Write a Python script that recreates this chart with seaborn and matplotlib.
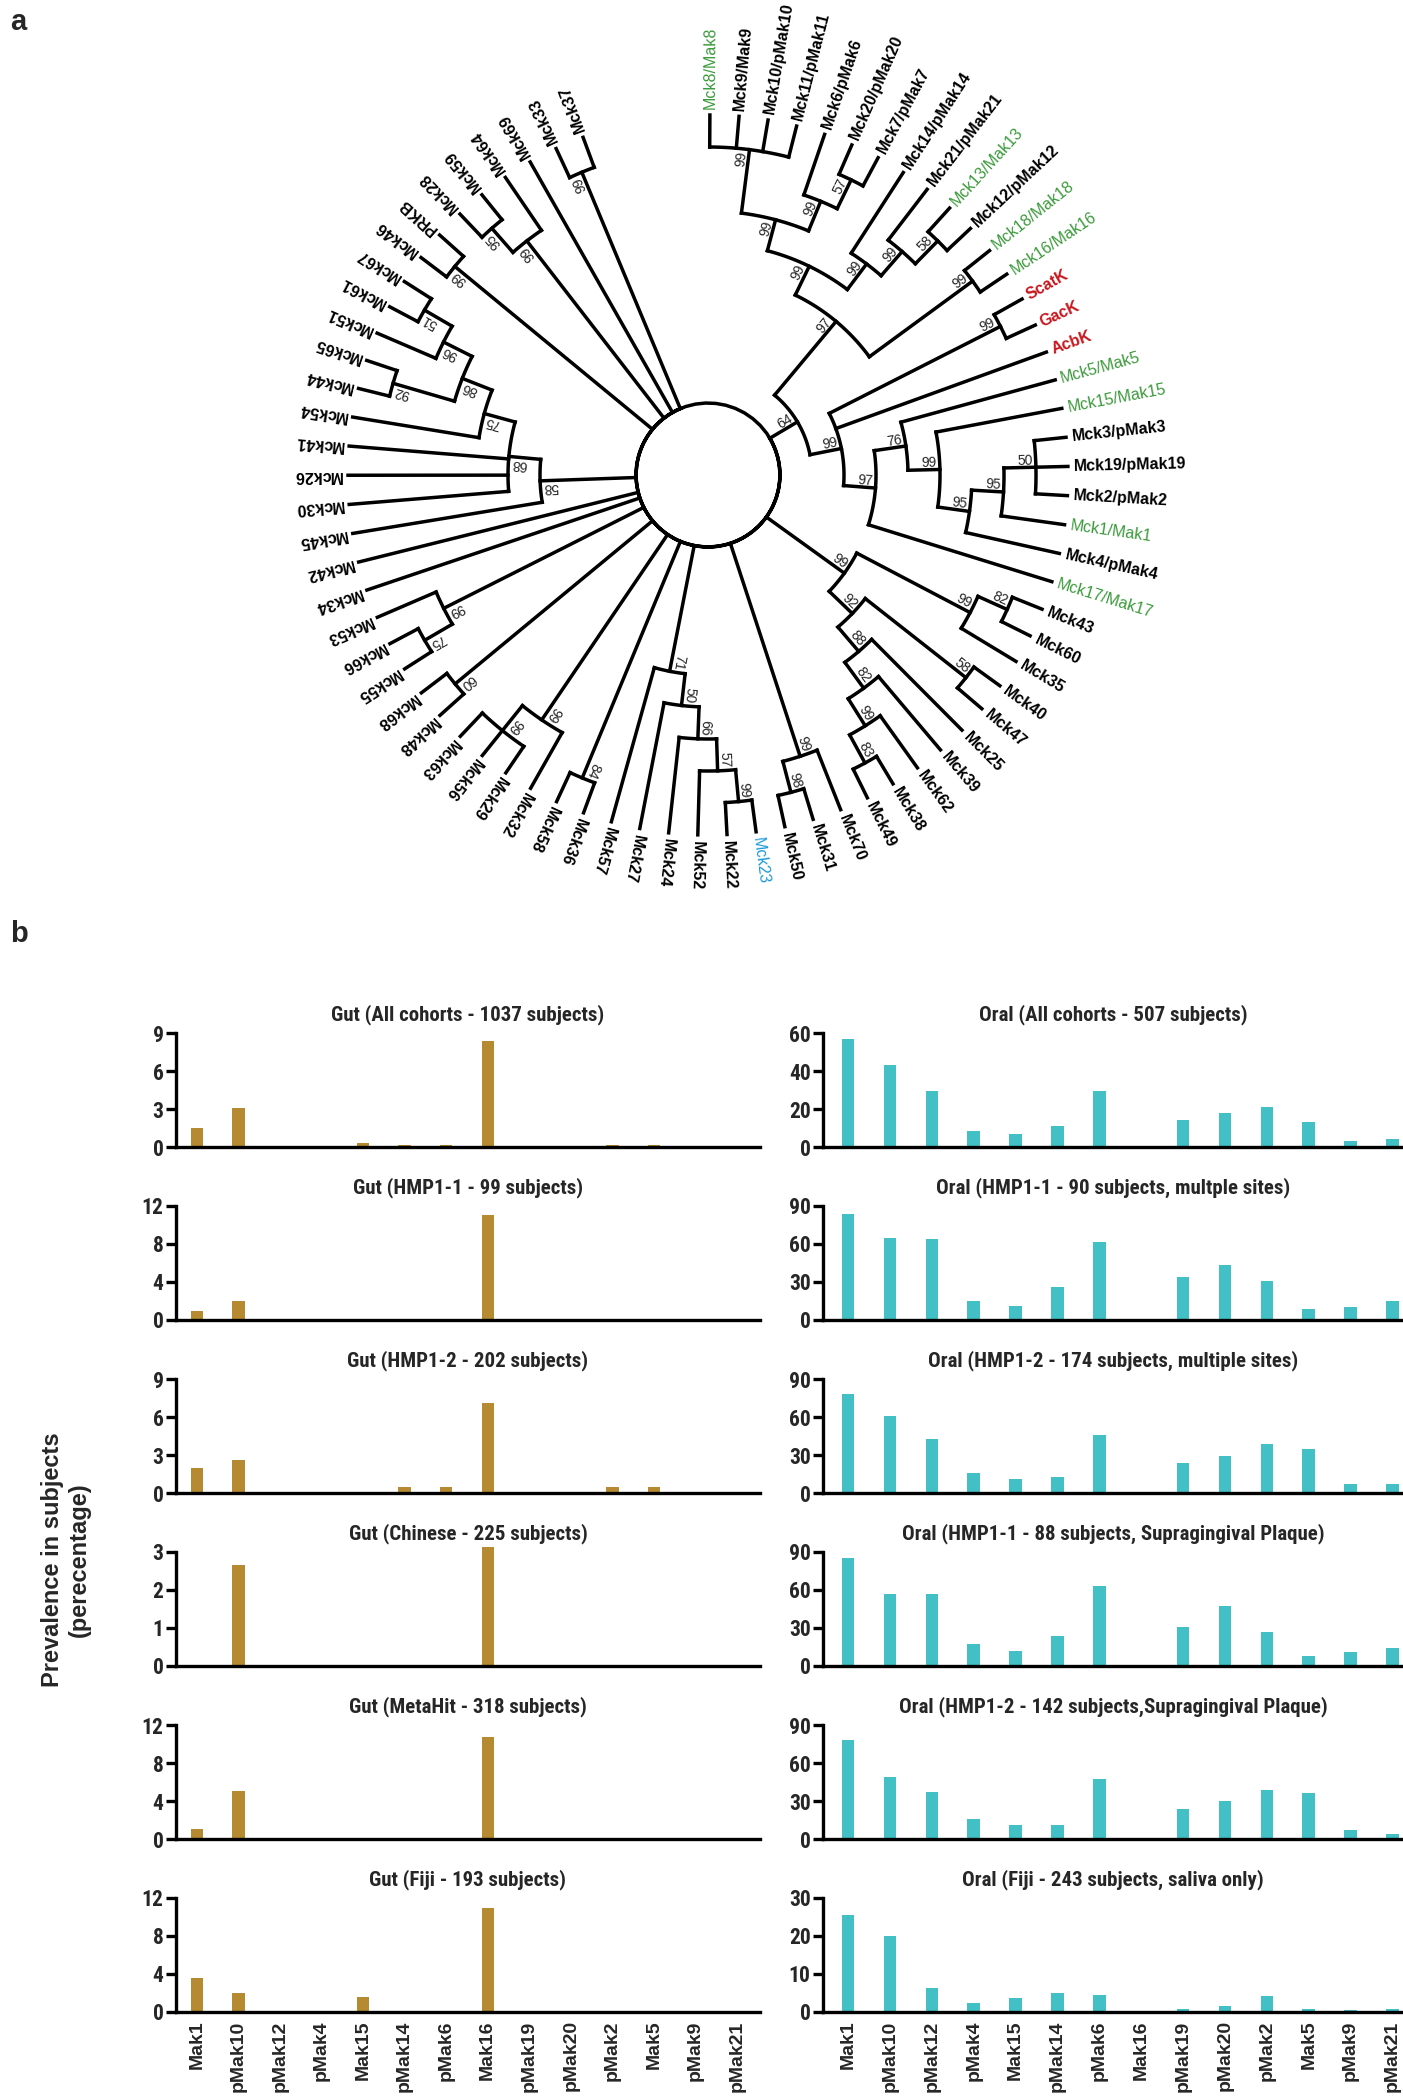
import matplotlib
matplotlib.use("Agg")
import matplotlib.pyplot as plt
import numpy as np
import seaborn as sns
from matplotlib import font_manager

# %% [markdown]
# Panel a: circular kinase tree. Internal nodes are (bootstrap, [children]),
# children listed clockwise starting from the top of the circle.

# %%
clade_64 = (64, [
    (97, [
        (99, [
            (99, [
                (99, ["Mck8/Mak8", "Mck9/Mak9", "Mck10/pMak10", "Mck11/pMak11"]),
                (99, ["Mck6/pMak6", (57, ["Mck20/pMak20", "Mck7/pMak7"])]),
            ]),
            (99, ["Mck14/pMak14", (99, ["Mck21/pMak21", (58, ["Mck13/Mak13", "Mck12/pMak12"])])]),
        ]),
        (99, ["Mck18/Mak18", "Mck16/Mak16"]),
    ]),
    (99, [
        (99, ["ScatK", "GacK"]),
        "AcbK",
        (97, [
            (76, ["Mck5/Mak5",
                  (99, ["Mck15/Mak15",
                        (95, [(95, [(50, ["Mck3/pMak3", "Mck19/pMak19", "Mck2/pMak2"]), "Mck1/Mak1"]),
                              "Mck4/pMak4"])])]),
            "Mck17/Mak17",
        ]),
    ]),
])
clade_c = (99, [
    (99, [(82, ["Mck43", "Mck60"]), "Mck35"]),
    (92, [(58, ["Mck40", "Mck47"]),
          (88, ["Mck25", (82, ["Mck39", (99, ["Mck62", (83, ["Mck38", "Mck49"])])])])]),
])
clade_d = (99, ["Mck70", (98, ["Mck31", "Mck50"])])
clade_e = (71, [(50, [(66, [(57, [(99, ["Mck23", "Mck22"]), "Mck52"]), "Mck24"]), "Mck27"]), "Mck57"])
clade_g = (84, ["Mck36", "Mck58"])
clade_j = (99, ["Mck32", (99, ["Mck29", "Mck56", "Mck63"])])
clade_i = (60, ["Mck48", "Mck68"])
clade_h = (99, [(75, ["Mck55", "Mck66"]), "Mck53"])
clade_k = (58, ["Mck45",
                (68, ["Mck30", "Mck26", "Mck41",
                      (75, ["Mck54",
                            (86, [(92, ["Mck44", "Mck65"]),
                                  (96, ["Mck51", (51, ["Mck61", "Mck67"])])])])])])
clade_l = (99, ["Mck46", "PRKB"])
clade_m = (99, [(95, ["Mck28", "Mck59"]), "Mck64"])
clade_n = (99, ["Mck33", "Mck37"])

root_children = [clade_64, clade_c, clade_d, clade_e, clade_g, clade_j, clade_i, clade_h,
                 "Mck34", "Mck42", clade_k, clade_l, clade_m, "Mck69", clade_n]

green_leaves = ["Mck8/Mak8", "Mck13/Mak13", "Mck18/Mak18", "Mck16/Mak16", "Mck5/Mak5",
                "Mck15/Mak15", "Mck1/Mak1", "Mck17/Mak17"]
red_leaves = ["ScatK", "GacK", "AcbK"]
blue_leaves = ["Mck23"]

# %% [markdown]
# Panel b: prevalence (%) of each kinase in gut and oral cohorts.

# %%
categories = ["Mak1", "pMak10", "pMak12", "pMak4", "Mak15", "pMak14", "pMak6",
              "Mak16", "pMak19", "pMak20", "pMak2", "Mak5", "pMak9", "pMak21"]

gut_titles = ["Gut (All cohorts - 1037 subjects)", "Gut (HMP1-1 - 99 subjects)",
              "Gut (HMP1-2 - 202 subjects)", "Gut (Chinese - 225 subjects)",
              "Gut (MetaHit - 318 subjects)", "Gut (Fiji - 193 subjects)"]
gut_yticks = [[0, 3, 6, 9], [0, 4, 8, 12], [0, 3, 6, 9], [0, 1, 2, 3], [0, 4, 8, 12], [0, 4, 8, 12]]
gut_all = [1.5, 3.05, 0, 0, 0.33, 0.15, 0.15, 8.35, 0, 0, 0.15, 0.15, 0, 0]
gut_hmp1_1 = [1.0, 2.0, 0, 0, 0, 0, 0, 11.1, 0, 0, 0, 0, 0, 0]
gut_hmp1_2 = [2.0, 2.6, 0, 0, 0, 0.5, 0.5, 7.1, 0, 0, 0.5, 0.5, 0, 0]
gut_chinese = [0, 2.65, 0, 0, 0, 0, 0, 3.12, 0, 0, 0, 0, 0, 0]
gut_metahit = [1.1, 5.1, 0, 0, 0, 0, 0, 10.7, 0, 0, 0, 0, 0, 0]
gut_fiji = [3.6, 2.05, 0, 0, 1.55, 0, 0, 10.9, 0, 0, 0, 0, 0, 0]

oral_titles = ["Oral (All cohorts - 507 subjects)", "Oral (HMP1-1 - 90 subjects, multple sites)",
               "Oral (HMP1-2 - 174 subjects, multiple sites)",
               "Oral (HMP1-1 - 88 subjects, Supragingival Plaque)",
               "Oral (HMP1-2 - 142 subjects,Supragingival Plaque)",
               "Oral (Fiji - 243 subjects, saliva only)"]
oral_yticks = [[0, 20, 40, 60], [0, 30, 60, 90], [0, 30, 60, 90], [0, 30, 60, 90],
               [0, 30, 60, 90], [0, 10, 20, 30]]
oral_all = [56.6, 43.1, 29.4, 8.4, 6.6, 11.0, 29.4, 0, 14.1, 17.8, 21.0, 13.2, 3.4, 4.3]
oral_hmp1_1 = [84, 64.6, 63.8, 15, 11, 26, 61.4, 0, 34, 43.7, 30.7, 9, 10, 15]
oral_hmp1_2 = [78, 61, 43, 16, 11, 13, 46, 0, 24, 29, 39, 35, 7, 7]
oral_hmp1_1_plaque = [85, 57, 57, 17, 12, 24, 63, 0, 31, 47, 27, 8, 11, 14]
oral_hmp1_2_plaque = [78, 49, 37, 16, 11, 11, 47, 0, 24, 30, 39, 36, 7, 4]
oral_fiji = [25.4, 20.0, 6.4, 2.4, 3.6, 4.9, 4.6, 0, 0.9, 1.5, 4.2, 0.9, 0.5, 0.9]

gut_values = [gut_all, gut_hmp1_1, gut_hmp1_2, gut_chinese, gut_metahit, gut_fiji]
oral_values = [oral_all, oral_hmp1_1, oral_hmp1_2, oral_hmp1_1_plaque, oral_hmp1_2_plaque, oral_fiji]

GUT_COLOR = "#b58a30"
ORAL_COLOR = "#42c0c6"

# %%
sns.set_style("ticks")
names = {f.name for f in font_manager.fontManager.ttflist}
SANS = "Liberation Sans" if "Liberation Sans" in names else "DejaVu Sans"
NARROW = next((n for n in ["Liberation Sans Narrow", "Arial Narrow", "Roboto Condensed"] if n in names), None)
TITLE_FONT, TITLE_SIZE = (NARROW, 15) if NARROW else (SANS, 13.5)
plt.rcParams["font.family"] = [SANS, "DejaVu Sans"]

W, H = 1403, 2100
fig = plt.figure(figsize=(W / 100, H / 100), dpi=100)

# a full-figure axes in pixel units for the tree and panel letters
tree_ax = fig.add_axes([0, 0, 1, 1])
tree_ax.set_xlim(0, W)
tree_ax.set_ylim(H, 0)
tree_ax.axis("off")
tree_ax.set_facecolor("none")

CX, CY = 708, 475
R_ROOT, R_TIP, STEP = 72, 360, 32
START_DEG, GAP_DEG = 89.7, 20.6
LW = 2.5


def leaves_of(node):
    if isinstance(node, str):
        return [node]
    return [leaf for ch in node[1] for leaf in leaves_of(ch)]


def height(node):
    if isinstance(node, str):
        return 0
    return 1 + max(height(ch) for ch in node[1])


leaf_names = [leaf for ch in root_children for leaf in leaves_of(ch)]
step_deg = (360 - GAP_DEG) / (len(leaf_names) - 1)
leaf_angle = {name: START_DEG - i * step_deg for i, name in enumerate(leaf_names)}


def angle(node):
    if isinstance(node, str):
        return leaf_angle[node]
    return (angle(node[1][0]) + angle(node[1][-1])) / 2


def radius(node):
    return R_TIP if isinstance(node, str) else R_TIP - STEP * height(node)


def xy(r, a):
    t = np.deg2rad(a)
    return CX + r * np.cos(t), CY - r * np.sin(t)


def arc(r, a0, a1):
    t = np.linspace(a0, a1, 80)
    x, y = xy(r, t)
    tree_ax.plot(x, y, color="black", lw=LW, solid_capstyle="projecting")


def draw(node, r_parent):
    a, r = angle(node), radius(node)
    (x0, y0), (x1, y1) = xy(r_parent, a), xy(r, a)
    tree_ax.plot([x0, x1], [y0, y1], color="black", lw=LW, solid_capstyle="projecting")
    if isinstance(node, str):
        color, weight = "black", "bold"
        if node in green_leaves:
            color, weight = "#3b9a3b", "normal"
        elif node in red_leaves:
            color = "#c8161d"
        elif node in blue_leaves:
            color, weight = "#1d9bd6", "normal"
        tx, ty = xy(r + 6, a)
        tree_ax.text(tx, ty, node, rotation=a, rotation_mode="anchor", ha="left",
                     va="center", fontsize=11.5, fontweight=weight, color=color)
        return
    kids = node[1]
    arc(r, angle(kids[0]), angle(kids[-1]))
    for ch in kids:
        draw(ch, r)
    bx, by = xy(r - 3, a)
    tree_ax.text(bx, by, str(node[0]), rotation=a, rotation_mode="anchor", ha="right",
                 va="bottom", fontsize=10)


arc(R_ROOT, angle(root_children[-1]) - 360, angle(root_children[0]))
for ch in root_children:
    draw(ch, R_ROOT)

tree_ax.text(10, 8, "a", fontsize=21, fontweight="bold", va="top", ha="left")
tree_ax.text(10, 920, "b", fontsize=21, fontweight="bold", va="top", ha="left")

# %% bar panels
ROW_ZERO0, ROW_STEP, AX_H = 1147, 173, 114
LEFT_X, LEFT_W, LEFT_LIM = 176, 584, (-0.5, 13.55)
RIGHT_X, RIGHT_W, RIGHT_LIM = 823, W - 823, (-0.6, 13.25)


def bar_panel(x_px, w_px, zero_px, values, color, title, yticks, xlim, last_row):
    ax = fig.add_axes([x_px / W, 1 - zero_px / H, w_px / W, AX_H / H])
    sns.barplot(x=categories, y=values, color=color, width=0.3, saturation=1,
                errorbar=None, linewidth=0, ax=ax)
    for p in ax.patches:
        p.set_clip_on(False)
    ax.set_xlim(*xlim)
    ax.set_ylim(0, yticks[-1])
    ax.set_yticks(yticks)
    ax.set_yticklabels([str(t) for t in yticks], fontsize=TITLE_SIZE + 0.5,
                       fontweight="bold", family=TITLE_FONT)
    ax.set_xlabel("")
    ax.set_ylabel("")
    sns.despine(ax=ax)
    for s in ("left", "bottom"):
        ax.spines[s].set_linewidth(2.4)
        ax.spines[s].set_color("black")
    ax.tick_params(axis="y", length=7, width=2.4, pad=2, color="black")
    ax.tick_params(axis="x", length=0, pad=6)
    if last_row:
        ax.set_xticks(range(len(categories)))
        ax.set_xticklabels(categories, rotation=90, fontsize=14, fontweight="bold")
    else:
        ax.set_xticklabels([])
    ax.set_title(title, fontsize=TITLE_SIZE, fontweight="bold", family=TITLE_FONT, pad=9)
    return ax


for i in range(6):
    zero = ROW_ZERO0 + i * ROW_STEP
    bar_panel(LEFT_X, LEFT_W, zero, gut_values[i], GUT_COLOR, gut_titles[i],
              gut_yticks[i], LEFT_LIM, i == 5)
    bar_panel(RIGHT_X, RIGHT_W, zero, oral_values[i], ORAL_COLOR, oral_titles[i],
              oral_yticks[i], RIGHT_LIM, i == 5)

fig.text(66 / W, 1 - 1560 / H, "Prevalence in subjects\n(perecentage)", rotation=90,
         ha="center", va="center", fontsize=17, fontweight="bold", linespacing=1.2)

fig.savefig("out.png", dpi=100)
